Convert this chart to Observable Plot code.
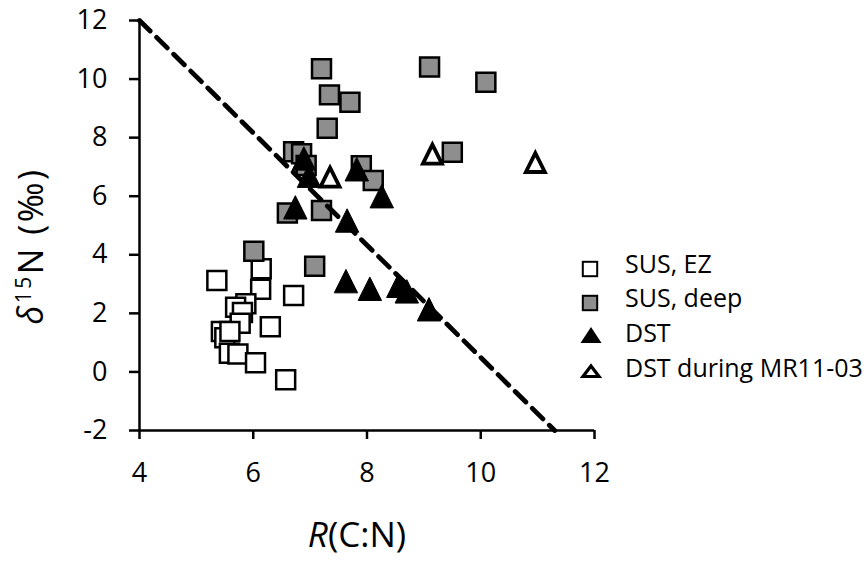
<!DOCTYPE html>
<html><head><meta charset="utf-8">
<script src="https://cdn.jsdelivr.net/npm/d3@7"></script>
<script src="https://cdn.jsdelivr.net/npm/@observablehq/plot@0.6"></script>
<style>
body{margin:0;background:#fff;font-family:"Open Sans",sans-serif;}
#wrap{position:relative;width:867px;height:565px;}
#legend{position:absolute;left:560px;top:240px;}
</style></head><body><div id="wrap"></div>
<script>
// ---- data ----
const seriesNames = ["SUS, EZ", "SUS, deep", "DST", "DST during MR11-03"];
const susEZ_x = [5.36,6.14,6.13,6.71,5.87,5.69,5.81,5.77,6.30,5.44,5.50,5.59,5.58,5.73,6.04,6.57];
const susEZ_y = [3.12,3.52,2.82,2.61,2.33,2.21,2.03,1.66,1.54,1.38,1.17,1.38,0.64,0.61,0.31,-0.27];
const susDeep_x = [9.10,10.09,9.50,7.20,7.34,7.70,7.30,6.71,6.85,6.93,6.60,7.20,7.08,7.90,8.11,6.01];
const susDeep_y = [10.41,9.89,7.50,10.35,9.46,9.21,8.32,7.52,7.45,7.05,5.43,5.51,3.61,7.04,6.54,4.12];
const dst_x = [6.89,6.98,7.82,8.26,6.74,7.65,7.63,8.05,8.55,8.70,9.09];
const dst_y = [7.29,6.70,6.92,6.00,5.62,5.17,3.10,2.84,2.94,2.75,2.14];
const dstMR_x = [9.15,10.96,7.35];
const dstMR_y = [7.44,7.15,6.65];
const line_x = [4, 11.3];
const line_y = [12, -2];
const xDomain = [4, 12];
const yDomain = [-2, 12];
const xTicks = [4, 6, 8, 10, 12];
const yTicks = [-2, 0, 2, 4, 6, 8, 10, 12];

// isoceles triangle (Excel-like), centred on its bounding box
const tri = {draw(ctx, size){ const s = Math.sqrt(size); ctx.moveTo(0,-s/2); ctx.lineTo(s/2,s/2); ctx.lineTo(-s/2,s/2); ctx.closePath(); }};

const plot = Plot.plot({
  width: 867, height: 565,
  marginLeft: 139, marginRight: 273, marginTop: 20, marginBottom: 135,
  style: {fontFamily: "Open Sans", fontSize: "27px", color: "#000", background: "#fff"},
  x: {domain: xDomain, ticks: xTicks, label: null},
  y: {domain: yDomain, ticks: yTicks, label: null},
  marks: [
    Plot.axisX({ticks: xTicks, tickSize: 9, tickPadding: 23, fontSize: 27, strokeWidth: 2.5, label: null, tickFormat: d => String(d)}),
    Plot.axisY({ticks: yTicks, tickSize: 10, tickPadding: 22, fontSize: 27, strokeWidth: 2.5, label: null, tickFormat: d => String(d)}),
    Plot.ruleX([xDomain[0]], {strokeWidth: 2.5}),
    Plot.ruleY([yDomain[0]], {strokeWidth: 2.5}),
    Plot.dot(susEZ_x, {x: susEZ_x, y: susEZ_y, symbol: "square", r: 10.7, fill: "#fff", stroke: "#000", strokeWidth: 2.5}),
    Plot.dot(susDeep_x, {x: susDeep_x, y: susDeep_y, symbol: "square", r: 10.7, fill: "#8e8e8e", stroke: "#000", strokeWidth: 2.5}),
    Plot.dot(dst_x, {x: dst_x, y: dst_y, symbol: tri, r: 13.2, fill: "#000", stroke: "#000", strokeWidth: 1}),
    Plot.dot(dstMR_x, {x: dstMR_x, y: dstMR_y, symbol: tri, r: 10.7, fill: "#fff", stroke: "#000", strokeWidth: 3.8}),
    Plot.line(line_x, {x: line_x, y: line_y, stroke: "#000", strokeWidth: 4.8, strokeDasharray: "15,9"})
  ]
});
document.getElementById("wrap").appendChild(plot);

const svg = d3.select(plot);

// axis titles with italic / superscript parts
const yt = svg.append("text").attr("transform", "translate(43,246) rotate(-90)")
  .attr("text-anchor", "middle").attr("font-size", 34).attr("letter-spacing", 2.5).attr("fill", "#000");
yt.append("tspan").attr("font-style", "italic").text("δ");
yt.append("tspan").attr("font-size", 21).attr("dy", -12).text("15");
yt.append("tspan").attr("dy", 12).text("N (‰)");
const xt = svg.append("text").attr("x", 357).attr("y", 547)
  .attr("text-anchor", "middle").attr("font-size", 35).attr("fill", "#000");
xt.append("tspan").attr("font-style", "italic").text("R");
xt.append("tspan").text("(C:N)");

// legend
const lg = d3.select("#wrap").append("svg").attr("id", "legend").attr("width", 307).attr("height", 160);
const rows = [
  {cy: 29, base: 33, kind: "sq", fill: "#fff"},
  {cy: 63, base: 67, kind: "sq", fill: "#8e8e8e"},
  {cy: 95, base: 102, kind: "tri", fill: "#000"},
  {cy: 131, base: 137, kind: "tri", fill: "#fff"}
];
rows.forEach((r, i) => {
  if (r.kind === "sq") {
    lg.append("rect").attr("x", 30 - 7.2).attr("y", r.cy - 7.2).attr("width", 14.4).attr("height", 14.4)
      .attr("fill", r.fill).attr("stroke", "#000").attr("stroke-width", 2);
  } else if (r.fill === "#000") {
    lg.append("path").attr("d", `M31,${r.cy-8}L41.5,${r.cy+8}L20.5,${r.cy+8}Z`).attr("fill", "#000");
  } else {
    lg.append("path").attr("d", `M31,${r.cy-5}L39,${r.cy+5.5}L23,${r.cy+5.5}Z`).attr("fill", "#fff")
      .attr("stroke", "#000").attr("stroke-width", 3.2);
  }
  lg.append("text").attr("x", 65).attr("y", r.base).attr("font-size", 25)
    .attr("font-family", "Open Sans").attr("fill", "#000").text(seriesNames[i]);
});
</script>
</body></html>
